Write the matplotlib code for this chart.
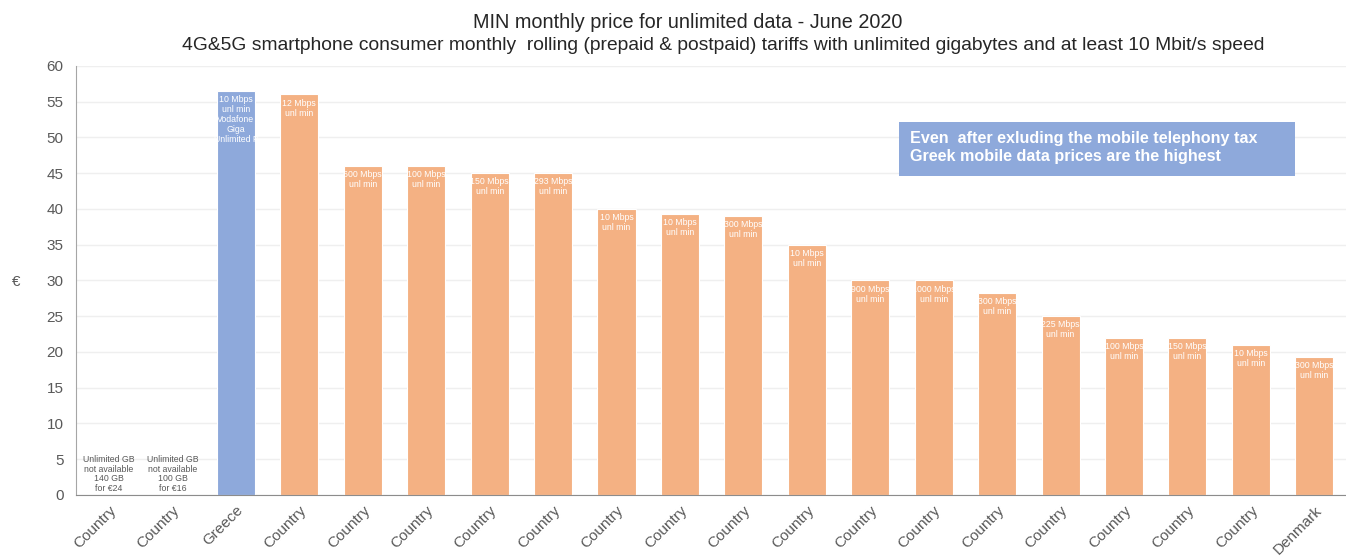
import matplotlib.pyplot as plt
from matplotlib.patches import Rectangle
import numpy as np

plt.rcParams['font.family'] = ['Liberation Sans', 'DejaVu Sans']

countries = ['Country', 'Country', 'Greece', 'Country', 'Country', 'Country', 'Country',
             'Country', 'Country', 'Country', 'Country', 'Country', 'Country', 'Country',
             'Country', 'Country', 'Country', 'Country', 'Country', 'Denmark']
prices = [0, 0, 56.5, 56, 46, 46, 45, 45, 40, 39.3, 39, 35, 30, 30, 28.3, 25, 22, 22, 21, 19.3]
speeds = ['', '', '10 Mbps', '12 Mbps', '600 Mbps', '100 Mbps', '150 Mbps', '293 Mbps',
          '10 Mbps', '10 Mbps', '300 Mbps', '10 Mbps', '900 Mbps', '1000 Mbps', '300 Mbps',
          '225 Mbps', '100 Mbps', '150 Mbps', '10 Mbps', '300 Mbps']
missing_notes = {0: 'Unlimited GB\nnot available\n140 GB\nfor €24',
                 1: 'Unlimited GB\nnot available\n100 GB\nfor €16'}
greece_extra = 'Vodafone\nGiga\nUnlimited P'

orange = '#F4B183'
blue = '#8EA9DB'
grey = '#595959'

fig = plt.figure(figsize=(13.46, 5.58), dpi=100)
ax = fig.add_axes([0.0565, 0.113, 0.9435, 0.769])

x = np.arange(len(countries))
colors = [blue if c == 'Greece' else orange for c in countries]
bars = ax.bar(x, prices, width=0.6, color=colors, edgecolor='white', linewidth=0.8, zorder=2)

for i, b in enumerate(bars):
    if prices[i] == 0:
        ax.text(x[i], 0.25, missing_notes[i], ha='center', va='bottom', fontsize=6.3,
                color=grey, linespacing=1.1)
        continue
    label = speeds[i] + '\nunl min'
    if countries[i] == 'Greece':
        label += '\n' + greece_extra
    t = ax.text(x[i], prices[i] - 0.6, label, ha='center', va='top', fontsize=6.3,
                color='white', linespacing=1.15, zorder=3)
    t.set_clip_path(b)

ax.set_xlim(-0.52, 19.5)
ax.set_ylim(0, 60)
ax.set_yticks(np.arange(0, 61, 5))
ax.yaxis.grid(True, color='#EFEFEF', linewidth=1, zorder=0)
ax.set_axisbelow(True)
ax.set_xticks(x)
ax.set_xticklabels(countries, rotation=45, ha='right', rotation_mode='anchor', fontsize=11, color=grey)
ax.tick_params(axis='y', labelsize=11, labelcolor=grey, length=0, pad=9)
ax.tick_params(axis='x', length=0, pad=6)
for s in ['top', 'right']:
    ax.spines[s].set_visible(False)
ax.spines['left'].set_color('#A6A6A6')
ax.spines['bottom'].set_color('#8C8C8C')
ax.set_ylabel('€', fontsize=11, color=grey, rotation=0)
ax.yaxis.set_label_coords(-0.047, 0.48)

fig.text(0.511, 0.959, 'MIN monthly price for unlimited data - June 2020', ha='center', va='center',
         fontsize=14.3, color='#262626')
fig.text(0.537, 0.918, '4G&5G smartphone consumer monthly  rolling (prepaid & postpaid) tariffs with unlimited gigabytes and at least 10 Mbit/s speed',
         ha='center', va='center', fontsize=13.9, color='#262626')

ax.add_patch(Rectangle((0.648, 0.744), 0.312, 0.125, transform=ax.transAxes,
                       facecolor=blue, edgecolor='none', zorder=4))
ax.text(0.657, 0.810, 'Even  after exluding the mobile telephony tax\nGreek mobile data prices are the highest',
        transform=ax.transAxes, ha='left', va='center', fontsize=11.6, fontweight='bold', color='white',
        linespacing=1.2, zorder=5)

fig.savefig('out.png', dpi=100)
